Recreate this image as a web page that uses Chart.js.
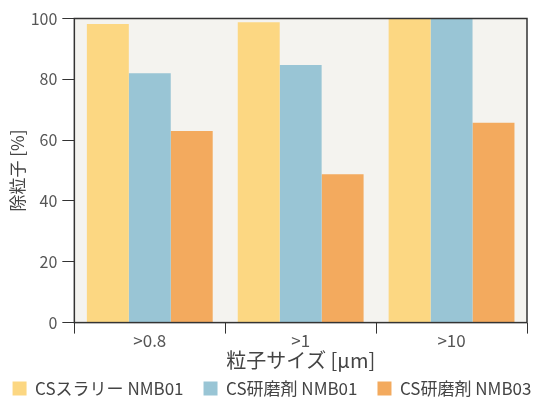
<!DOCTYPE html>
<html>
<head>
<meta charset="utf-8">
<script src="https://cdn.jsdelivr.net/npm/chart.js@4"></script>
<style>
  body { margin: 0; background: #fff; }
</style>
</head>
<body>
<canvas id="myChart" width="535" height="398"></canvas>
<script>
const sizes = ['>0.8', '>1', '>10'];
const slurry01 = [98.2, 98.8, 100];
const abrasive01 = [82.0, 84.7, 100];
const abrasive03 = [63.0, 48.8, 65.7];

const fontJP = '"Noto Sans CJK JP", "Noto Sans", sans-serif';

// фон и рамка области графика
const frame = {
  id: 'frame',
  beforeDraw(chart) {
    const a = chart.chartArea;
    const c = chart.ctx;
    c.save();
    c.fillStyle = '#f4f3ef';
    c.fillRect(a.left, a.top, a.right - a.left, a.bottom - a.top);
    c.restore();
  },
  afterDatasetsDraw(chart) {
    const a = chart.chartArea;
    const c = chart.ctx;
    c.save();
    c.strokeStyle = '#333';
    c.lineWidth = 1.5;
    c.strokeRect(a.left, a.top, a.right - a.left, a.bottom - a.top);
    c.restore();
  }
};

// легенда в одну строку с большими промежутками
const wideLegend = {
  id: 'wideLegend',
  beforeLayout(chart) {
    const lg = chart.legend;
    if (lg && !lg.wide) {
      lg.wide = true;
      const fit = lg.fit;
      const draw = lg.draw;
      lg.fit = function () {
        const w = this.maxWidth;
        this.maxWidth = w + 100;
        fit.call(this);
        this.maxWidth = w;
        this.width = Math.min(this.width, w);
      };
      lg.draw = function () {
        const l = this.left, r = this.right;
        this.left = l - 60;
        this.right = r + 60;
        draw.call(this);
        this.left = l;
        this.right = r;
      };
    }
  }
};

const ctx = document.getElementById('myChart').getContext('2d');
new Chart(ctx, {
  type: 'bar',
  data: {
    labels: sizes,
    datasets: [{
      label: 'CSスラリー NMB01',
      data: slurry01,
      backgroundColor: '#fcd782'
    }, {
      label: 'CS研磨剤 NMB01',
      data: abrasive01,
      backgroundColor: '#99c5d5'
    }, {
      label: 'CS研磨剤 NMB03',
      data: abrasive03,
      backgroundColor: '#f3aa5e'
    }]
  },
  plugins: [frame, wideLegend],
  options: {
    responsive: false,
    animation: false,
    layout: { padding: { top: 18.5, right: 0, left: 9, bottom: 0 } },
    datasets: { bar: { categoryPercentage: 0.834, barPercentage: 1 } },
    plugins: {
      tooltip: { enabled: false },
      legend: {
        position: 'bottom',
        maxHeight: 38,
        labels: {
          boxWidth: 14,
          boxHeight: 14,
          padding: 20,
          color: '#444',
          font: { family: fontJP, size: 17 }
        }
      }
    },
    scales: {
      x: {
        border: { display: false },
        grid: { drawOnChartArea: false, drawTicks: true, tickLength: 11, color: '#333', offset: true },
        ticks: { color: '#555', font: { family: fontJP, size: 17 }, padding: -3 },
        title: {
          display: true,
          text: '粒子サイズ [μm]',
          color: '#444',
          font: { family: fontJP, size: 20 },
          padding: { top: 0, bottom: -12 }
        }
      },
      y: {
        min: 0,
        max: 100,
        border: { display: false },
        grid: { drawOnChartArea: false, drawTicks: true, tickLength: 12, color: '#333' },
        ticks: { stepSize: 20, color: '#555', font: { family: fontJP, size: 16 }, padding: 5 },
        title: {
          display: true,
          text: '除粒子 [%]',
          color: '#444',
          font: { family: fontJP, size: 17 },
          padding: { top: -1.7, bottom: -2 }
        }
      },
      yr: {
        position: 'right',
        border: { display: false },
        grid: { display: false },
        ticks: { display: false },
        afterFit(scale) { scale.width = 8; }
      }
    }
  }
});
</script>
</body>
</html>
